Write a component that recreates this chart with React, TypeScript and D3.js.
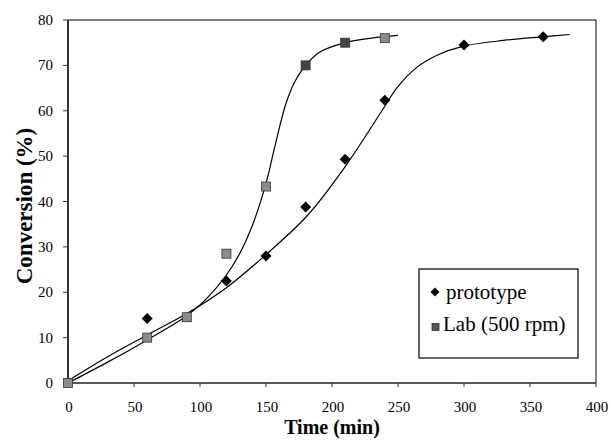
import React from "react";
import * as d3 from "d3";

const protoT = [0, 60, 120, 150, 180, 210, 240, 300, 360];
const protoV = [0, 14.2, 22.5, 28, 38.8, 49.3, 62.3, 74.5, 76.3];
const labT = [0, 60, 90, 120, 150, 180, 210, 240];
const labV = [0, 10, 14.5, 28.5, 43.3, 70, 75, 76];

// fitted curves
const protoCurveT = [0, 30, 60, 90, 120, 150, 181, 210, 240, 249, 264, 280, 299, 330, 360, 380];
const protoCurveV = [0.5, 5.8, 10.6, 15.3, 21, 28.3, 36.8, 47.7, 61, 65, 69.5, 72.3, 74.2, 75.5, 76.3, 76.8];
const labCurveT = [0, 30, 60, 90, 105, 120, 130, 140, 150, 157, 165, 172, 180, 190, 210, 230, 250];
const labCurveV = [0, 4.6, 9.5, 14.8, 18.6, 23.8, 28.5, 35, 44, 52.5, 61.5, 66.5, 70, 72.8, 75, 76, 76.6];

const xTicks = [0, 50, 100, 150, 200, 250, 300, 350, 400];
const yTicks = [0, 10, 20, 30, 40, 50, 60, 70, 80];
const legendLabels = ["prototype", "Lab (500 rpm)"];

const FONT = '"Liberation Serif"';

export default function App() {
  const W = 610, H = 448;
  const x = d3.scaleLinear().domain([0, 400]).range([68, 596]);
  const y = d3.scaleLinear().domain([0, 80]).range([383, 20]);
  const line = d3
    .line<[number, number]>()
    .x((d) => x(d[0]))
    .y((d) => y(d[1]))
    .curve(d3.curveCatmullRom.alpha(0.5));
  const protoCurve = protoCurveT.map((t, i) => [t, protoCurveV[i]] as [number, number]);
  const labCurve = labCurveT.map((t, i) => [t, labCurveV[i]] as [number, number]);
  const diamond = (cx: number, cy: number, r: number) =>
    `M${cx},${cy - r}L${cx + r},${cy}L${cx},${cy + r}L${cx - r},${cy}Z`;
  const tf = { fontFamily: FONT };

  return (
    <svg width={W} height={H} style={{ position: "absolute", left: 0, top: 0, background: "#fff" }}>
      <line x1={x(0)} x2={x(400)} y1={y(80)} y2={y(80)} stroke="#000" strokeWidth={1} />
      <line x1={x(400)} x2={x(400)} y1={y(80)} y2={y(0)} stroke="#000" strokeWidth={1} />
      <line x1={x(0)} x2={x(400)} y1={y(0)} y2={y(0)} stroke="#222" strokeWidth={1.5} />
      <line x1={x(0)} x2={x(0)} y1={y(80)} y2={y(0)} stroke="#333" strokeWidth={2} />
      {yTicks.map((v) => (
        <g key={"y" + v}>
          <line x1={x(0) - 5} x2={x(0)} y1={y(v)} y2={y(v)} stroke="#333" strokeWidth={1} />
          <text x={x(0) - 15} y={y(v) + 5} textAnchor="end" style={tf} fontSize={15}>
            {v}
          </text>
        </g>
      ))}
      {xTicks.map((v) => (
        <g key={"x" + v}>
          <line x1={x(v)} x2={x(v)} y1={y(0)} y2={y(0) + 4} stroke="#333" strokeWidth={1} />
          <text x={x(v) + 1} y={412} textAnchor="middle" style={tf} fontSize={15}>
            {v}
          </text>
        </g>
      ))}
      <text x={332} y={434} textAnchor="middle" style={tf} fontSize={20} fontWeight="bold">
        Time (min)
      </text>
      <text
        transform={`translate(32,206) rotate(-90)`}
        textAnchor="middle"
        style={tf}
        fontSize={23}
        fontWeight="bold"
      >
        Conversion (%)
      </text>
      <path d={line(protoCurve) || ""} fill="none" stroke="#000" strokeWidth={1.2} />
      <path d={line(labCurve) || ""} fill="none" stroke="#000" strokeWidth={1.2} />
      {labT.map((t, i) => (
        <rect
          key={"l" + i}
          x={x(t) - 4.5}
          y={y(labV[i]) - 4.5}
          width={9}
          height={9}
          fill={t === 180 || t === 210 ? "#444" : "#8c8c8c"}
          stroke="#333"
          strokeWidth={0.8}
        />
      ))}
      {protoT.map((t, i) =>
        t === 0 ? null : <path key={"p" + i} d={diamond(x(t), y(protoV[i]), 5.5)} fill="#000" />
      )}
      <rect x={419} y={269} width={159} height={89} fill="#fff" stroke="#000" strokeWidth={1.2} />
      <path d={diamond(435, 292, 4.5)} fill="#000" />
      <text x={446} y={299} style={tf} fontSize={21}>
        {legendLabels[0]}
      </text>
      <rect x={432} y={323.5} width={7} height={7} fill="#555" stroke="#333" strokeWidth={0.8} />
      <text x={443} y={331} style={tf} fontSize={21}>
        {legendLabels[1]}
      </text>
    </svg>
  );
}
